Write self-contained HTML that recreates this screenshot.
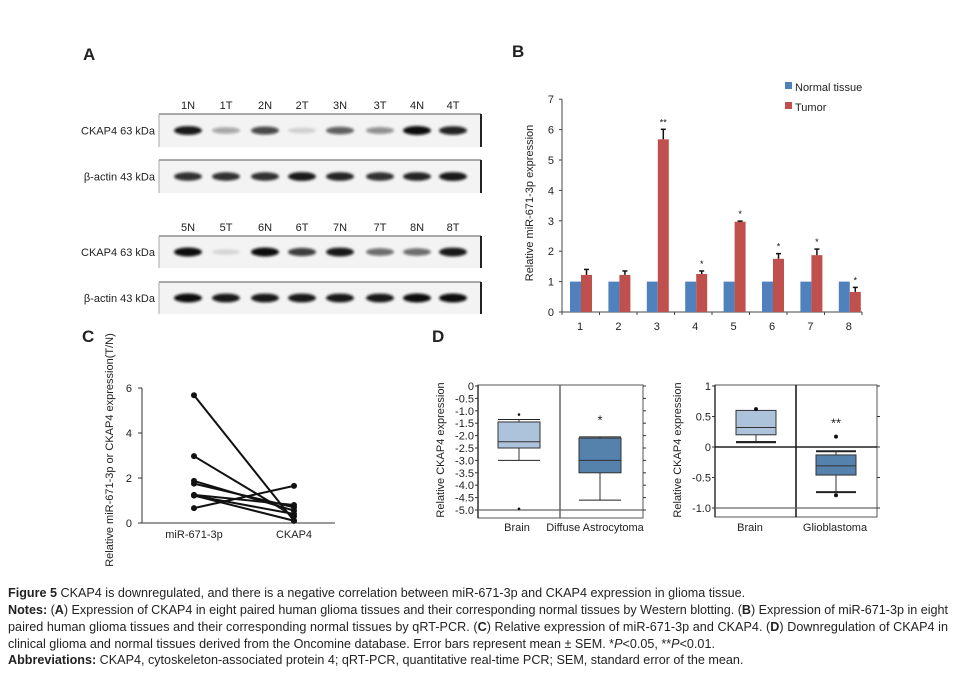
<!DOCTYPE html>
<html><head><meta charset="utf-8"><style>
html,body{margin:0;padding:0;background:#fff;}
svg{display:block;font-family:"Liberation Sans",sans-serif;}
</style></head><body>
<svg id="fig" width="956" height="675" viewBox="0 0 956 675" xmlns="http://www.w3.org/2000/svg">
<defs><filter id="blur" x="-30%" y="-100%" width="160%" height="300%"><feGaussianBlur stdDeviation="1.3"/></filter></defs>
<g font-weight="bold" font-size="17" fill="#222">
<text x="83" y="60">A</text>
<text x="512" y="57">B</text>
<text x="82" y="342">C</text>
<text x="432" y="342">D</text>
</g>
<g id="panelA"></g>
<g id="panelB"></g>
<g id="panelC"></g>
<g id="panelD"></g>
<g id="caption" font-size="12.6" fill="#222">
<text x="8" y="597"><tspan font-weight="bold">Figure 5</tspan> CKAP4 is downregulated, and there is a negative correlation between miR-671-3p and CKAP4 expression in glioma tissue.</text>
<text x="8" y="614" textLength="940" lengthAdjust="spacing"><tspan font-weight="bold">Notes:</tspan> (<tspan font-weight="bold">A</tspan>) Expression of CKAP4 in eight paired human glioma tissues and their corresponding normal tissues by Western blotting. (<tspan font-weight="bold">B</tspan>) Expression of miR-671-3p in eight</text>
<text x="8" y="631" textLength="940" lengthAdjust="spacing">paired human glioma tissues and their corresponding normal tissues by qRT-PCR. (<tspan font-weight="bold">C</tspan>) Relative expression of miR-671-3p and CKAP4. (<tspan font-weight="bold">D</tspan>) Downregulation of CKAP4 in</text>
<text x="8" y="648">clinical glioma and normal tissues derived from the Oncomine database. Error bars represent mean ± SEM. *<tspan font-style="italic">P</tspan>&lt;0.05, **<tspan font-style="italic">P</tspan>&lt;0.01.</text>
<text x="8" y="664"><tspan font-weight="bold">Abbreviations:</tspan> CKAP4, cytoskeleton-associated protein 4; qRT-PCR, quantitative real-time PCR; SEM, standard error of the mean.</text>
</g>
</svg>
<script>
const NS="http://www.w3.org/2000/svg";
function mk(parent,tag,attrs,text){const e=document.createElementNS(NS,tag);for(const k in attrs)e.setAttribute(k,attrs[k]);if(text!==undefined)e.textContent=text;parent.appendChild(e);return e;}

// ---------- Panel A data ----------
const laneLabelsTop=["1N","1T","2N","2T","3N","3T","4N","4T"];
const laneLabelsBottom=["5N","5T","6N","6T","7N","7T","8N","8T"];
const ckapTop=[0.95,0.35,0.75,0.15,0.65,0.45,1.0,0.9];
const actinTop=[0.85,0.85,0.85,0.95,0.9,0.85,0.9,0.95];
const ckapBottom=[1.0,0.12,1.0,0.8,0.95,0.6,0.6,0.95];
const actinBottom=[1.0,0.95,0.95,0.95,0.95,0.95,1.0,1.0];

const laneX=[188,226,265,302,340,380,417,453];
const A=document.getElementById('panelA');
function blot(y0,y1,vals,label,kda,name){
  const g=mk(A,'g',{});
  
  
  mk(g,'rect',{x:159,y:y0,width:322,height:y1-y0,fill:'#f3f3f3'});
  mk(g,'line',{x1:159,y1:y0,x2:481,y2:y0,stroke:'#777','stroke-width':1.2});
  mk(g,'line',{x1:159,y1:y0,x2:159,y2:y1,stroke:'#aaa','stroke-width':1});
  mk(g,'line',{x1:481,y1:y0,x2:481,y2:y1,stroke:'#222','stroke-width':2});
  const cy=(y0+y1)/2;
  vals.forEach((v,i)=>{
    const b=mk(g,'ellipse',{cx:laneX[i],cy:cy,rx:14,ry:2.5+2*v,fill:'#111','fill-opacity':v,filter:'url(#blur)'});
    
    
  });
  const t=mk(A,'text',{x:155,y:cy+4,'font-size':11,fill:'#222','text-anchor':'end'},label+'  '+kda);
  
  
}
function lanes(y,labels){labels.forEach((l,i)=>{const t=mk(A,'text',{x:laneX[i],y:y,'font-size':11,fill:'#222','text-anchor':'middle'},l);});}
lanes(109,laneLabelsTop);
blot(114,147,ckapTop,'CKAP4','63 kDa','blot-ckap4-top');
blot(160,193,actinTop,'β-actin','43 kDa','blot-actin-top');
lanes(231,laneLabelsBottom);
blot(236,268,ckapBottom,'CKAP4','63 kDa','blot-ckap4-bottom');
blot(282,314,actinBottom,'β-actin','43 kDa','blot-actin-bottom');

// ---------- Panel B data ----------
const bCategories=["1","2","3","4","5","6","7","8"];
const bNormal=[1,1,1,1,1,1,1,1];
const bTumor=[1.22,1.22,5.68,1.25,2.97,1.75,1.87,0.66];
const bError=[0.18,0.13,0.33,0.10,0.02,0.17,0.20,0.15];
const bStars=["","","**","*","*","*","*","*"];
const bTicks=[0,1,2,3,4,5,6,7];

const B=document.getElementById('panelB');
const by=v=>312-v*30.4;
const bx=i=>581+i*38.4;
mk(B,'line',{x1:562,y1:by(0),x2:862,y2:by(0),stroke:'#444','stroke-width':1});
mk(B,'line',{x1:562,y1:by(7),x2:562,y2:by(0),stroke:'#444','stroke-width':1});
bTicks.forEach(t=>{mk(B,'line',{x1:559,y1:by(t),x2:562,y2:by(t),stroke:'#444'});const e=mk(B,'text',{x:554,y:by(t)+4,'font-size':11,'text-anchor':'end',fill:'#222'},t);});
for(let i=0;i<=8;i++){mk(B,'line',{x1:562+i*37.5,y1:by(0),x2:562+i*37.5,y2:by(0)+3,stroke:'#444'});}
bCategories.forEach((c,i)=>{
  const x=bx(i);
  const n=mk(B,'rect',{x:x-11,y:by(bNormal[i]),width:11,height:by(0)-by(bNormal[i]),fill:'#4f81bd'});
  
  const t=mk(B,'rect',{x:x,y:by(bTumor[i]),width:11,height:by(0)-by(bTumor[i]),fill:'#c0504d'});
  
  const top=by(bTumor[i]+bError[i]);
  mk(B,'line',{x1:x+5.5,y1:by(bTumor[i]),x2:x+5.5,y2:top,stroke:'#111','stroke-width':1.5});
  mk(B,'line',{x1:x+3,y1:top,x2:x+8,y2:top,stroke:'#111','stroke-width':1.5});
  if(bStars[i]){const s=mk(B,'text',{x:x+5.5,y:top-4,'font-size':9,'text-anchor':'middle',fill:'#111'},bStars[i]);}
  const l=mk(B,'text',{x:x-1,y:330,'font-size':11,'text-anchor':'middle',fill:'#222'},c);
  
});
const byl=mk(B,'text',{x:0,y:0,'font-size':11,'text-anchor':'middle',fill:'#222',transform:'translate(533,203) rotate(-90)'},'Relative miR-671-3p expression');

const lg1=mk(B,'rect',{x:785,y:82,width:7,height:7,fill:'#4f81bd'});
const lt1=mk(B,'text',{x:795,y:91,'font-size':11,fill:'#222'},'Normal tissue');
const lg2=mk(B,'rect',{x:785,y:102,width:7,height:7,fill:'#c0504d'});
const lt2=mk(B,'text',{x:795,y:111,'font-size':11,fill:'#222'},'Tumor');

// ---------- Panel C data ----------
const cCategories=["miR-671-3p","CKAP4"];
const cMiR=[5.68,2.97,1.87,1.75,1.25,1.22,1.22,0.66];
const cCKAP4=[0.1,0.3,0.55,0.7,0.8,0.4,0.1,1.65];
const cTicks=[0,2,4,6];
const C=document.getElementById('panelC');
const cy=v=>523-v*22.5;
const cx=[194,294];
mk(C,'line',{x1:142,y1:cy(6),x2:142,y2:cy(0),stroke:'#333'});
mk(C,'line',{x1:142,y1:cy(0),x2:335,y2:cy(0),stroke:'#333'});
cTicks.forEach(t=>{mk(C,'line',{x1:138,y1:cy(t),x2:142,y2:cy(t),stroke:'#333'});const e=mk(C,'text',{x:132,y:cy(t)+4,'font-size':11,'text-anchor':'end',fill:'#222'},t);});
cCategories.forEach((c,i)=>{const e=mk(C,'text',{x:cx[i],y:538,'font-size':11,'text-anchor':'middle',fill:'#222'},c);});
cMiR.forEach((v,i)=>{
  const l=mk(C,'line',{x1:cx[0],y1:cy(v),x2:cx[1],y2:cy(cCKAP4[i]),stroke:'#111','stroke-width':2});
  
  const p1=mk(C,'circle',{cx:cx[0],cy:cy(v),r:3,fill:'#111'});
  const p2=mk(C,'circle',{cx:cx[1],cy:cy(cCKAP4[i]),r:3,fill:'#111'});
});
const cyl=mk(C,'text',{x:0,y:0,'font-size':11,'text-anchor':'middle',fill:'#222',transform:'translate(113,450) rotate(-90)'},'Relative miR-671-3p or CKAP4 expression(T/N)');


// ---------- Panel D data ----------
const d1Categories=["Brain","Diffuse Astrocytoma"];
const d1Stats=[[-1.35,-1.45,-2.25,-2.5,-3.0],[-2.05,-2.1,-3.0,-3.5,-4.6]]; // whiskerHigh,q3,median,q1,whiskerLow
const d1Outliers=[[-1.15,-4.95],[]];
const d1Ticks=["0","-0.5","-1.0","-1.5","-2.0","-2.5","-3.0","-3.5","-4.0","-4.5","-5.0"];
const d2Categories=["Brain","Glioblastoma"];
const d2Stats=[[0.08,0.6,0.32,0.2,0.08],[-0.07,-0.13,-0.31,-0.46,-0.74]];
const d2Outliers=[[0.62],[0.17,-0.79]];
const d2Ticks=["1","0.5","0","-0.5","-1.0"];
const boxColors=["#adc3dc","#5581ad"];
const D=document.getElementById('panelD');

function boxPlot(o){
  const y=v=>o.y0-(v-o.vmax)/(o.vmin-o.vmax)*(o.y0-o.y1)*-1;
  const yy=v=>o.y0+(o.vmax-v)/(o.vmax-o.vmin)*(o.y1-o.y0);
  mk(D,'rect',{x:o.xl,y:o.y0-1,width:o.xr-o.xl,height:o.yb-o.y0+1,fill:'none',stroke:'#555','stroke-width':1});
  mk(D,'line',{x1:o.xl,y1:o.y0-1,x2:o.xl,y2:o.yb,stroke:'#333','stroke-width':1.5});
  mk(D,'line',{x1:o.xd,y1:o.y0-1,x2:o.xd,y2:o.yb,stroke:o.dark?'#111':'#666','stroke-width':1.5});
  o.ticks.forEach(t=>{const v=parseFloat(t);mk(D,'line',{x1:o.xl-3,y1:yy(v),x2:o.xl,y2:yy(v),stroke:'#333'});mk(D,'line',{x1:o.xr,y1:yy(v),x2:o.xr+3,y2:yy(v),stroke:'#333'});const e=mk(D,'text',{x:o.xl-4,y:yy(v)+4,'font-size':11,'text-anchor':'end',fill:'#222'},t);});
  if(o.zeroLine!==undefined){mk(D,'line',{x1:o.xl,y1:yy(o.zeroLine),x2:o.xr,y2:yy(o.zeroLine),stroke:'#222','stroke-width':1.5});}
  if(o.bottomLine!==undefined){mk(D,'line',{x1:o.xl,y1:yy(o.bottomLine),x2:o.xr,y2:yy(o.bottomLine),stroke:'#666','stroke-width':1.2});}
  o.cats.forEach((c,i)=>{
    const cx=o.cx[i],hw=o.hw;
    const s=o.stats[i];
    mk(D,'line',{x1:cx,y1:yy(s[0]),x2:cx,y2:yy(s[1]),stroke:'#333'});
    mk(D,'line',{x1:cx,y1:yy(s[3]),x2:cx,y2:yy(s[4]),stroke:'#333'});
    mk(D,'line',{x1:cx-o.cw,y1:yy(s[0]),x2:cx+o.cw,y2:yy(s[0]),stroke:'#222','stroke-width':o.capW});
    mk(D,'line',{x1:cx-o.cw,y1:yy(s[4]),x2:cx+o.cw,y2:yy(s[4]),stroke:'#222','stroke-width':o.capW});
    const b=mk(D,'rect',{x:cx-hw,y:yy(s[1]),width:2*hw,height:yy(s[3])-yy(s[1]),fill:boxColors[i],stroke:'#333'});
    
    mk(D,'line',{x1:cx-hw,y1:yy(s[2]),x2:cx+hw,y2:yy(s[2]),stroke:'#333'});
    o.outliers[i].forEach(v=>{const p=mk(D,'circle',{cx:cx,cy:yy(v),r:o.dotR,fill:'#111'});});
    if(o.stars[i]){const st=mk(D,'text',{x:cx,y:yy(o.starY)+5,'font-size':13,'text-anchor':'middle',fill:'#222'},o.stars[i]);}
    const l=mk(D,'text',{x:o.lx[i],y:531,'font-size':11,'text-anchor':'middle',fill:'#222'},c);
    
  });
  const t=mk(D,'text',{x:0,y:0,'font-size':11,'text-anchor':'middle',fill:'#222',transform:'translate('+o.titleX+',450) rotate(-90)'},'Relative CKAP4 expression');
  
}
boxPlot({xl:478,xr:643,xd:560,y0:386,y1:510,yb:518,vmax:0,vmin:-5,ticks:d1Ticks,cats:d1Categories,stats:d1Stats,outliers:d1Outliers,cx:[519,600],hw:21,cw:21,capW:1,dotR:1.3,stars:["","*"],starY:-1.35,lx:[517,595],titleX:444,bottomLine:-5});
boxPlot({xl:715,xr:877,xd:796,y0:386,y1:508,yb:517,vmax:1,vmin:-1,ticks:d2Ticks,cats:d2Categories,stats:d2Stats,outliers:d2Outliers,cx:[756,836],hw:20,cw:20,capW:2,dotR:2,stars:["","**"],starY:0.4,lx:[750,835],titleX:681,zeroLine:0,bottomLine:-1,dark:true});
</script>
</body></html>
